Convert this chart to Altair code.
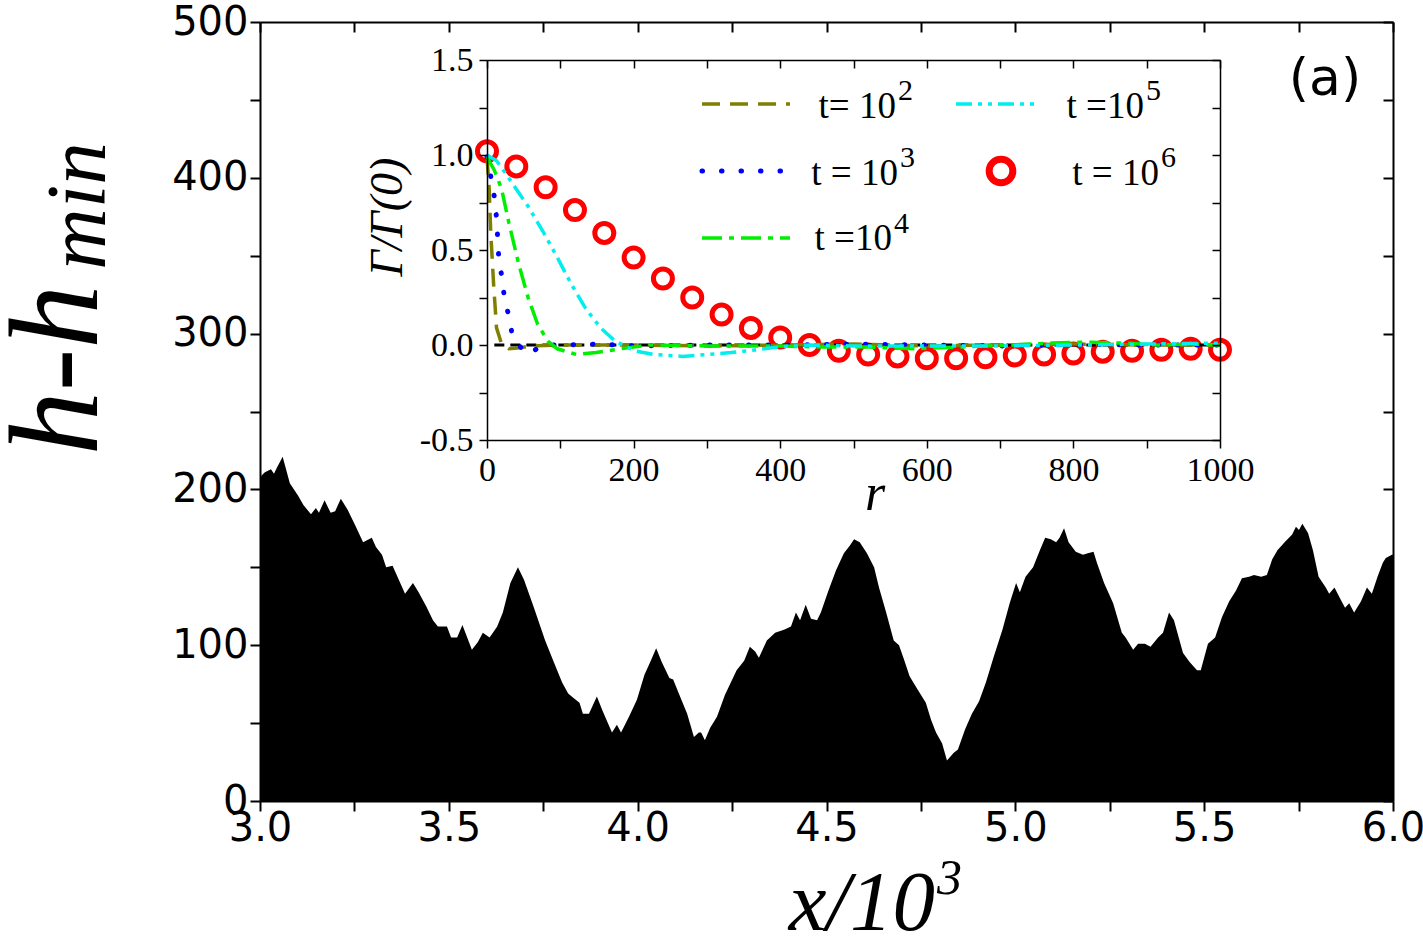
import altair as alt
import pandas as pd

# ---------------- main profile (x in units of 10^3, h - h_min) ----------------
prof_x = [3.000, 3.004, 3.013, 3.029, 3.037, 3.045, 3.060, 3.079, 3.101, 3.115,
          3.135, 3.148, 3.156, 3.171, 3.187, 3.199, 3.214, 3.232, 3.252, 3.273,
          3.296, 3.307, 3.323, 3.334, 3.351, 3.364, 3.384, 3.405, 3.420, 3.440,
          3.458, 3.471, 3.486, 3.495, 3.506, 3.522, 3.536, 3.561, 3.577, 3.590,
          3.608, 3.628, 3.643, 3.663, 3.683, 3.699, 3.724, 3.755, 3.780, 3.800,
          3.816, 3.831, 3.846, 3.855, 3.871, 3.892, 3.907, 3.921, 3.932, 3.945,
          3.956, 3.977, 3.998, 4.018, 4.033, 4.049, 4.064, 4.084, 4.094, 4.109,
          4.131, 4.149, 4.162, 4.168, 4.178, 4.192, 4.210, 4.231, 4.262, 4.282,
          4.297, 4.311, 4.321, 4.342, 4.364, 4.389, 4.406, 4.419, 4.430, 4.445,
          4.459, 4.475, 4.485, 4.505, 4.525, 4.546, 4.562, 4.573, 4.588, 4.607,
          4.626, 4.639, 4.658, 4.678, 4.692, 4.705, 4.720, 4.740, 4.763, 4.777,
          4.790, 4.806, 4.819, 4.837, 4.848, 4.867, 4.885, 4.904, 4.922, 4.942,
          4.966, 4.985, 5.002, 5.012, 5.027, 5.047, 5.065, 5.079, 5.094, 5.108,
          5.117, 5.129, 5.141, 5.160, 5.179, 5.192, 5.207, 5.216, 5.235, 5.259,
          5.282, 5.292, 5.312, 5.325, 5.343, 5.358, 5.378, 5.391, 5.407, 5.420,
          5.444, 5.462, 5.481, 5.491, 5.510, 5.529, 5.547, 5.566, 5.584, 5.600,
          5.619, 5.632, 5.651, 5.666, 5.680, 5.694, 5.713, 5.733, 5.743, 5.751,
          5.760, 5.775, 5.788, 5.803, 5.822, 5.831, 5.845, 5.860, 5.873, 5.884,
          5.897, 5.915, 5.931, 5.944, 5.959, 5.973, 5.981, 5.997, 6.000]
prof_h = [206, 209, 211, 213, 210, 214, 221, 204, 196, 190,
          184, 188, 185, 193, 185, 186, 194, 187, 177, 166,
          169, 163, 158, 150, 151, 144, 133, 140, 134, 125,
          116, 112, 112, 112, 105, 105, 113, 97, 102, 108,
          105, 112, 121, 140, 150, 142, 125, 103, 88, 76,
          69, 66, 63, 56, 56, 67, 58, 50, 44, 49,
          44, 54, 65, 81, 89, 98, 89, 79, 78, 69,
          56, 41, 44, 44, 39, 47, 54, 68, 84, 90,
          99, 96, 92, 103, 108, 110, 112, 121, 116, 126,
          117, 116, 121, 135, 148, 159, 164, 168, 166, 159,
          150, 137, 121, 103, 100, 91, 80, 72, 63, 52,
          44, 37, 26, 31, 33, 46, 56, 64, 76, 92,
          110, 127, 140, 134, 144, 150, 161, 169, 168, 166,
          169, 175, 166, 160, 158, 159, 160, 153, 140, 127,
          108, 105, 97, 101, 101, 99, 105, 108, 121, 116,
          95, 89, 84, 84, 101, 105, 118, 128, 135, 143,
          144, 145, 144, 145, 155, 161, 166, 171, 176, 174,
          178, 172, 161, 144, 137, 133, 137, 130, 124, 127,
          121, 128, 137, 133, 144, 153, 156, 158, 158]

main_x_ticks = [3.0, 3.25, 3.5, 3.75, 4.0, 4.25, 4.5, 4.75, 5.0, 5.25, 5.5, 5.75, 6.0]
main_y_ticks = [0, 50, 100, 150, 200, 250, 300, 350, 400, 450, 500]

# ---------------- inset: Gamma(r)/Gamma(0) ----------------
r_t2 = [0, 3, 5, 9, 13, 20, 30, 45, 60, 100, 200, 300, 400, 500, 600, 700, 800, 900, 1000]
g_t2 = [0.99, 0.82, 0.60, 0.32, 0.09, 0.005, -0.02, -0.015, -0.005, 0.0, 0.0, -0.005,
        0.0, 0.005, -0.005, 0.0, 0.005, 0.0, 0.0]

r_t3 = [0, 5, 10, 13, 16, 21, 24, 30, 35, 43, 56, 76, 100, 150, 200, 300, 400, 500,
        600, 700, 800, 900, 1000]
g_t3 = [0.99, 0.89, 0.78, 0.67, 0.46, 0.34, 0.24, 0.15, 0.04, 0.0, -0.05, 0.0, 0.0,
        0.005, -0.005, 0.0, 0.0, 0.005, 0.0, -0.005, 0.005, 0.0, 0.0]

r_t4 = [0, 10, 20, 30, 43, 56, 69, 83, 96, 122, 149, 182, 221, 300, 400, 452, 520,
        584, 650, 716, 770, 815, 870, 914, 960, 1000]
g_t4 = [0.99, 0.92, 0.82, 0.64, 0.43, 0.25, 0.11, 0.02, -0.02, -0.05, -0.04, -0.02,
        0.0, -0.005, -0.005, -0.01, -0.01, -0.02, -0.01, 0.0, 0.01, 0.015, 0.01, 0.0,
        0.005, 0.0]

r_t5 = [0, 13, 26, 40, 56, 76, 96, 115, 135, 155, 175, 201, 228, 267, 300, 333, 366,
        399, 439, 500, 600, 700, 800, 900, 1000]
g_t5 = [1.0, 0.97, 0.90, 0.82, 0.73, 0.60, 0.46, 0.32, 0.19, 0.09, 0.02, -0.03, -0.05,
        -0.06, -0.05, -0.04, -0.026, -0.01, 0.0, -0.005, -0.005, -0.005, 0.0, 0.005, 0.01]

r_t6 = [0, 40, 80, 120, 160, 200, 240, 280, 320, 360, 400, 440, 480, 520, 560, 600,
        640, 680, 720, 760, 800, 840, 880, 920, 960, 1000]
g_t6 = [1.02, 0.94, 0.83, 0.71, 0.59, 0.46, 0.35, 0.25, 0.16, 0.09, 0.04, 0.0, -0.03,
        -0.05, -0.06, -0.07, -0.07, -0.065, -0.055, -0.05, -0.045, -0.035, -0.03,
        -0.025, -0.02, -0.025]

r_zero = [10, 1000]
g_zero = [0.0, 0.0]

ins_x_ticks = [0, 100, 200, 300, 400, 500, 600, 700, 800, 900, 1000]
ins_y_ticks = [-0.5, -0.25, 0.0, 0.25, 0.5, 0.75, 1.0, 1.25, 1.5]

# ---------------- layout (pixels) ----------------
W, H = 1133, 779
PAD = {"left": 260, "top": 22, "right": 30, "bottom": 143}
INS_X_RANGE = [227, 960]
INS_Y_RANGE = [418, 38]


def make_axis(orient, values, offset=0, labels=True, label_expr=None, font="DejaVu Sans",
              size=40, tick=10, pad=2, width=2.0):
    kw = dict(orient=orient, values=values, offset=offset, labels=labels, grid=False,
              title=None, domain=True, domainColor="black", domainWidth=width,
              ticks=True, tickColor="black", tickWidth=width, tickSize=tick,
              labelFlush=False, labelOverlap=False, zindex=1)
    if labels:
        kw.update(labelExpr=label_expr, labelFont=font, labelFontSize=size,
                  labelColor="black", labelPadding=pad)
    return alt.Axis(**kw)


main_df = pd.DataFrame({"x": prof_x, "h": prof_h})
xs = alt.Scale(domain=[3, 6], nice=False, zero=False)
ys = alt.Scale(domain=[0, 500], nice=False, zero=False)

main_area = alt.Chart(main_df).mark_area(color="black", interpolate="linear").encode(
    x=alt.X("x:Q", scale=xs, axis=make_axis(
        "bottom", main_x_ticks, pad=-3,
        label_expr="round(datum.value * 4) % 2 === 0 ? format(datum.value, '.1f') : ''")),
    y=alt.Y("h:Q", scale=ys, axis=make_axis(
        "left", main_y_ticks, pad=2,
        label_expr="datum.value % 100 === 0 ? format(datum.value, 'd') : ''")),
)
main_mirror = alt.Chart(main_df).mark_point(opacity=0).encode(
    x=alt.X("x:Q", scale=xs, axis=make_axis("bottom", main_x_ticks, offset=-H, labels=False)),
    y=alt.Y("h:Q", scale=ys, axis=make_axis("left", main_y_ticks, offset=-W, labels=False)),
)
main = alt.layer(main_area, main_mirror).resolve_axis(x="independent", y="independent")

ixs = alt.Scale(domain=[0, 1000], range=INS_X_RANGE, nice=False, zero=False)
iys = alt.Scale(domain=[-0.5, 1.5], range=INS_Y_RANGE, nice=False, zero=False)


def inset_line(r, g, color, dash, width=3.5, cap="butt"):
    return alt.Chart(pd.DataFrame({"r": r, "g": g})).mark_line(
        color=color, strokeDash=dash, strokeWidth=width, strokeCap=cap).encode(
        x=alt.X("r:Q", scale=ixs, axis=None),
        y=alt.Y("g:Q", scale=iys, axis=None))


df6 = pd.DataFrame({"r": r_t6, "g": g_t6})
circles = alt.Chart(df6).mark_point(shape="circle", filled=False, color="#ff0000",
                                    size=360, strokeWidth=5, opacity=1).encode(
    x=alt.X("r:Q", scale=ixs, axis=make_axis(
        "bottom", ins_x_ticks, offset=-(H - INS_Y_RANGE[0]), font="Liberation Serif",
        size=34, tick=8, pad=5, width=1.5,
        label_expr="datum.value % 200 === 0 ? format(datum.value, 'd') : ''")),
    y=alt.Y("g:Q", scale=iys, axis=make_axis(
        "left", ins_y_ticks, offset=-INS_X_RANGE[0], font="Liberation Serif",
        size=34, tick=8, pad=6, width=1.5,
        label_expr="round(datum.value * 4) % 2 === 0 ? (datum.value < 0 ? '-' : '') + format(abs(datum.value), '.1f') : ''")),
)
ins_mirror = alt.Chart(df6).mark_point(opacity=0).encode(
    x=alt.X("r:Q", scale=ixs, axis=make_axis(
        "bottom", ins_x_ticks, offset=-(H - INS_Y_RANGE[1]), labels=False, tick=8, width=1.5)),
    y=alt.Y("g:Q", scale=iys, axis=make_axis(
        "left", ins_y_ticks, offset=-INS_X_RANGE[1], labels=False, tick=8, width=1.5)),
)

inset = alt.layer(
    circles,
    inset_line(r_zero, g_zero, "black", [10, 6], 3),
    inset_line(r_t2, g_t2, "#808000", [18, 10]),
    inset_line(r_t3, g_t3, "#0000ff", [0.5, 19], 5, "round"),
    inset_line(r_t4, g_t4, "#00ee00", [20, 7, 5, 7]),
    inset_line(r_t5, g_t5, "#00eeee", [16, 6, 4, 6, 4, 6]),
    ins_mirror,
).resolve_axis(x="independent", y="independent")


# ---------------- text annotations & legend ----------------
one = pd.DataFrame({"k": [0]})


def label(s, x, y, size, font="Liberation Serif", style="normal", align="left",
          baseline="alphabetic", angle=0):
    return alt.Chart(pd.DataFrame({"t": [s]})).mark_text(
        font=font, fontSize=size, fontStyle=style, align=align, baseline=baseline,
        angle=angle, color="black").encode(text="t:N", x=alt.value(x), y=alt.value(y))


def leg_line(x0, x1, y, color, dash, width=3.5, cap="butt"):
    return alt.Chart(one).mark_rule(color=color, strokeDash=dash, strokeWidth=width,
                                    strokeCap=cap).encode(
        x=alt.value(x0), x2=alt.value(x1), y=alt.value(y))


texts = [
    label("h-h", -163, 348, 128, style="italic", align="center", angle=270),
    label("min", -155, 184, 85, style="italic", align="center", angle=270),
    label("x/10", 675, 908, 85, style="italic", align="right"),
    label("3", 677, 872, 50, style="italic"),
    label("(a)", 1065, 73, 52, font="DejaVu Sans", align="center"),
    label("\u0393/\u0393(0)", 142, 195, 46, style="italic", align="center", angle=270),
    label("r", 615, 488, 52, style="italic", align="center"),
    # legend
    leg_line(442, 530, 82, "#808000", [18, 10]),
    leg_line(442, 530, 149, "#0000ff", [0.5, 19], 5, "round"),
    leg_line(442, 530, 216, "#00ee00", [20, 7, 5, 7]),
    leg_line(696, 778, 82, "#00eeee", [16, 6, 4, 6, 4, 6]),
    alt.Chart(one).mark_point(shape="circle", filled=False, color="#ff0000", size=560,
                              strokeWidth=7, opacity=1).encode(
        x=alt.value(741), y=alt.value(149)),
    label("t= 10", 636, 96, 37, align="right"),
    label("2", 638, 78, 30),
    label("t = 10", 638, 163, 37, align="right"),
    label("3", 640, 145, 30),
    label("t =10", 632, 228, 37, align="right"),
    label("4", 634, 211, 30),
    label("t =10", 884, 96, 37, align="right"),
    label("5", 886, 78, 30),
    label("t = 10", 899, 163, 37, align="right"),
    label("6", 901, 145, 30),
]

chart = alt.layer(main, inset, *texts).resolve_scale(
    x="independent", y="independent"
).properties(
    width=W, height=H,
    autosize=alt.AutoSizeParams(type="none"),
    padding=PAD,
).configure_view(stroke=None)

chart.save("out.html", embed_options={"renderer": "svg", "actions": False})
